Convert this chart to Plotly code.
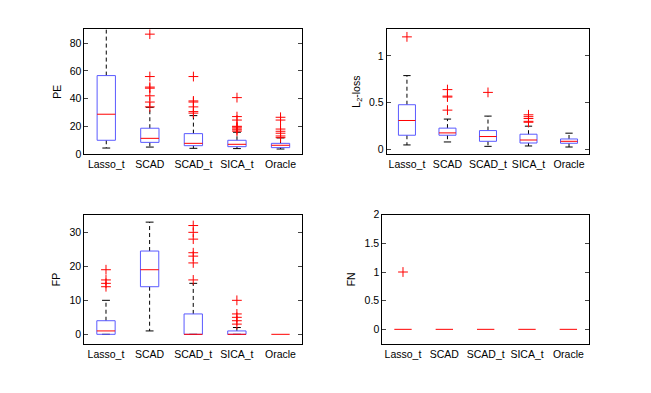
import plotly.graph_objects as go

cats = ["Lasso_t", "SCAD", "SCAD_t", "SICA_t", "Oracle"]

# PE
pe_low = [4.3, 5.0, 4.1, 3.9, 3.6]
pe_q1 = [9.9, 8.4, 6.0, 5.3, 4.6]
pe_med = [28.7, 11.3, 7.7, 7.0, 6.3]
pe_q3 = [56.6, 18.6, 14.7, 9.9, 7.7]
pe_high = [120.0, 33.7, 27.7, 15.7, 11.6]
pe_out = [[], [86.5, 55.9, 48.3, 47.5, 42.0, 37.5, 34.0],
          [55.9, 38.3, 37.5, 34.0, 30.6, 29.5],
          [40.7, 27.0, 24.5, 20.0, 19.5, 18.7, 17.5, 16.5],
          [26.5, 24.5, 18.0, 16.4, 15.0, 13.0, 11.8]]

# L2-loss
l2_low = [0.047, 0.079, 0.032, 0.036, 0.025]
l2_q1 = [0.151, 0.151, 0.086, 0.068, 0.065]
l2_med = [0.309, 0.176, 0.137, 0.100, 0.086]
l2_q3 = [0.478, 0.227, 0.201, 0.162, 0.111]
l2_high = [0.79, 0.324, 0.356, 0.248, 0.173]
l2_out = [[1.205], [0.64, 0.57, 0.56, 0.42], [0.61],
          [0.37, 0.35, 0.33, 0.30, 0.29], []]

# FP
fp_low = [0, 1, 0, 0, 0]
fp_q1 = [0, 14, 0, 0, 0]
fp_med = [1, 19, 0, 0, 0]
fp_q3 = [4, 24.5, 6, 1, 0]
fp_high = [10, 33, 15, 2, 0]
fp_out = [[19, 16, 15, 14], [], [32, 30, 28, 24, 23, 21, 16],
          [10, 6, 5, 4, 3], []]

# FN
fn_low = [0, 0, 0, 0, 0]
fn_q1 = [0, 0, 0, 0, 0]
fn_med = [0, 0, 0, 0, 0]
fn_q3 = [0, 0, 0, 0, 0]
fn_high = [0, 0, 0, 0, 0]
fn_out = [[1], [], [], [], []]

panels = [
    (pe_low, pe_q1, pe_med, pe_q3, pe_high, pe_out),
    (l2_low, l2_q1, l2_med, l2_q3, l2_high, l2_out),
    (fp_low, fp_q1, fp_med, fp_q3, fp_high, fp_out),
    (fn_low, fn_q1, fn_med, fn_q3, fn_high, fn_out),
]

hw = 0.21   # box half width
cw = 0.09   # cap half width

fig = go.Figure()
for p, (low, q1, med, q3, high, out) in enumerate(panels):
    xa = "x" if p == 0 else "x%d" % (p + 1)
    ya = "y" if p == 0 else "y%d" % (p + 1)
    bx, by, wx, wy, cx, cy, mx, my, ox, oy = [], [], [], [], [], [], [], [], [], []
    for i in range(len(cats)):
        c = i + 1
        if q3[i] > q1[i]:
            bx += [c - hw, c + hw, c + hw, c - hw, c - hw, None]
            by += [q1[i], q1[i], q3[i], q3[i], q1[i], None]
        if high[i] > low[i]:
            wx += [c, c, None, c, c, None]
            wy += [q3[i], high[i], None, q1[i], low[i], None]
            cx += [c - cw, c + cw, None, c - cw, c + cw, None]
            cy += [high[i], high[i], None, low[i], low[i], None]
        mx += [c - hw, c + hw, None]
        my += [med[i], med[i], None]
        ox += [c] * len(out[i])
        oy += out[i]
    fig.add_trace(go.Scatter(x=wx, y=wy, mode="lines", xaxis=xa, yaxis=ya,
                             line=dict(color="black", width=1, dash="4px,3px")))
    fig.add_trace(go.Scatter(x=cx, y=cy, mode="lines", xaxis=xa, yaxis=ya,
                             line=dict(color="black", width=1)))
    fig.add_trace(go.Scatter(x=bx, y=by, mode="lines", xaxis=xa, yaxis=ya,
                             line=dict(color="#5a5aff", width=1)))
    fig.add_trace(go.Scatter(x=mx, y=my, mode="lines", xaxis=xa, yaxis=ya,
                             line=dict(color="red", width=1)))
    fig.add_trace(go.Scatter(x=ox, y=oy, mode="markers", xaxis=xa, yaxis=ya,
                             marker=dict(symbol="cross-thin-open", size=7, color="red",
                                         line=dict(color="red", width=1))))

# page body has an 8px margin, domains are set to compensate
xdom = [[0.1175, 0.4521], [0.5817, 0.8929], [0.1170, 0.4521], [0.5750, 0.8925]]
ydom = [[0.6285, 0.9458], [0.6285, 0.9458], [0.1450, 0.4733], [0.1450, 0.4741]]
yrng = [[0, 90], [-0.05, 1.286], [-2.85, 35.1], [-0.256, 2]]
ytv = [[0, 20, 40, 60, 80], [0, 0.5, 1], [0, 10, 20, 30], [0, 0.5, 1, 1.5, 2]]
ytt = [["0", "20", "40", "60", "80"], ["0", "0.5", "1"], ["0", "10", "20", "30"],
       ["0", "0.5", "1", "1.5", "2"]]
ytitles = ["PE", "L<sub>2</sub>-loss", "FP", "FN"]

layout = dict(
    width=651, height=393, showlegend=False,
    plot_bgcolor="white", paper_bgcolor="white",
    margin=dict(l=0, r=0, t=0, b=0),
    font=dict(family="Liberation Sans, Arial, sans-serif", size=10.5, color="black"),
)
for p in range(4):
    sx = "xaxis" if p == 0 else "xaxis%d" % (p + 1)
    sy = "yaxis" if p == 0 else "yaxis%d" % (p + 1)
    ax = "x" if p == 0 else "x%d" % (p + 1)
    ay = "y" if p == 0 else "y%d" % (p + 1)
    layout[sx] = dict(domain=xdom[p], anchor=ay, range=[0.5, 5.5], automargin=False,
                      tickvals=[1, 2, 3, 4, 5], ticktext=cats, ticks="",
                      showline=True, mirror=True, linecolor="black", linewidth=1,
                      showgrid=False, zeroline=False, tickfont=dict(size=10.5))
    layout[sy] = dict(domain=ydom[p], anchor=ax, range=yrng[p], automargin=False,
                      tickvals=ytv[p], ticktext=ytt[p], ticks="inside", ticklen=4,
                      showline=True, mirror="ticks", linecolor="black", linewidth=1,
                      showgrid=False, zeroline=False, tickfont=dict(size=10.5),
                      title=dict(text=ytitles[p], font=dict(size=10.5), standoff=6))
fig.update_layout(**layout)

fig.write_html("out.html")
